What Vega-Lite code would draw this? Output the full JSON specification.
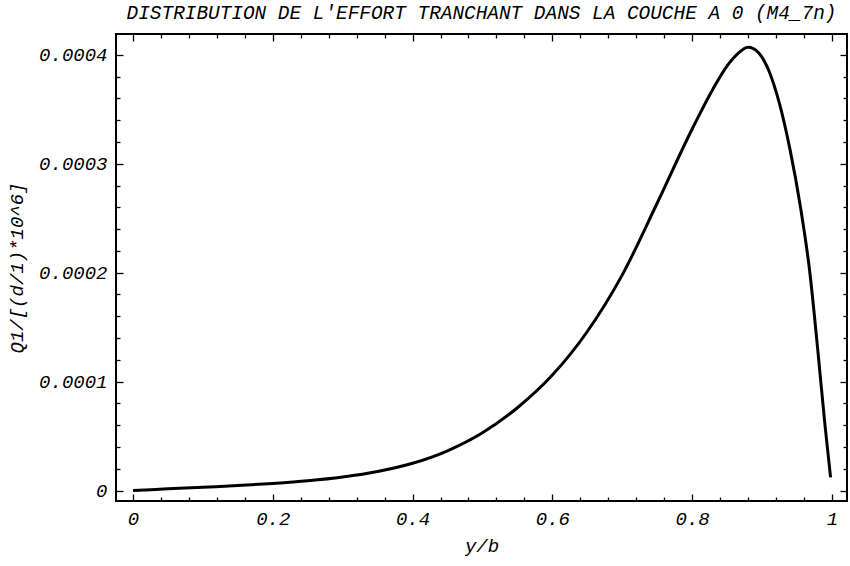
{
  "$schema": "https://vega.github.io/schema/vega-lite/v6.json",
  "width": 731,
  "height": 467,
  "autosize": {"type": "none"},
  "padding": {"left": 116, "top": 34, "right": 3, "bottom": 65},
  "background": "white",
  "config": {
    "view": {"stroke": "black", "strokeWidth": 2},
    "font": "Liberation Mono",
    "axis": {
      "grid": false,
      "domain": false,
      "labelFont": "Liberation Mono",
      "labelFontStyle": "italic",
      "labelFontSize": 19,
      "labelColor": "black",
      "titleFont": "Liberation Mono",
      "titleFontStyle": "italic",
      "titleFontWeight": "normal",
      "titleFontSize": 19,
      "titleColor": "black",
      "tickColor": "black",
      "tickWidth": 1.3,
      "labelFlush": false,
      "labelOverlap": false,
      "labelBound": false
    }
  },
  "title": {
    "text": "DISTRIBUTION DE L'EFFORT TRANCHANT DANS LA COUCHE A 0 (M4_7n)",
    "font": "Liberation Mono",
    "fontStyle": "italic",
    "fontWeight": "normal",
    "fontSize": 19.4,
    "color": "black",
    "anchor": "middle",
    "offset": 10
  },
  "data": {
    "values": [
      {"yb": 0, "q": 0},
      {"yb": 0.05, "q": 0.0000015},
      {"yb": 0.1, "q": 0.000003},
      {"yb": 0.15, "q": 0.0000045},
      {"yb": 0.2, "q": 0.0000065},
      {"yb": 0.25, "q": 0.000009},
      {"yb": 0.3, "q": 0.0000125},
      {"yb": 0.35, "q": 0.0000175},
      {"yb": 0.4, "q": 0.000025},
      {"yb": 0.45, "q": 0.0000365},
      {"yb": 0.5, "q": 0.000053},
      {"yb": 0.55, "q": 0.000076},
      {"yb": 0.6, "q": 0.000106},
      {"yb": 0.65, "q": 0.000146},
      {"yb": 0.7, "q": 0.000198},
      {"yb": 0.75, "q": 0.000264},
      {"yb": 0.8, "q": 0.000332},
      {"yb": 0.83, "q": 0.000369},
      {"yb": 0.85, "q": 0.00039},
      {"yb": 0.865, "q": 0.000401},
      {"yb": 0.88, "q": 0.000407},
      {"yb": 0.895, "q": 0.000402},
      {"yb": 0.91, "q": 0.000385},
      {"yb": 0.925, "q": 0.000355},
      {"yb": 0.94, "q": 0.000313},
      {"yb": 0.955, "q": 0.00026},
      {"yb": 0.968, "q": 0.000202},
      {"yb": 0.98, "q": 0.000127},
      {"yb": 0.99, "q": 0.00006},
      {"yb": 0.998, "q": 0.000012}
    ]
  },
  "resolve": {"axis": {"x": "independent", "y": "independent"}},
  "layer": [
    {
      "mark": {"type": "line", "color": "black", "strokeWidth": 3, "interpolate": "monotone"},
      "encoding": {
        "x": {"field": "yb", "type": "quantitative", "scale": {"domain": [-0.0243, 1.0215], "nice": false, "zero": false},
          "axis": {"orient": "bottom", "title": "y/b", "ticks": false, "values": [0, 0.2, 0.4, 0.6, 0.8, 1], "labelExpr": "format(datum.value, '~g')", "labelPadding": 8, "titlePadding": 8}},
        "y": {"field": "q", "type": "quantitative", "scale": {"domain": [-0.00000964, 0.0004192], "nice": false, "zero": false},
          "axis": {"orient": "left", "title": "Q1/[(d/1)*10^6]", "ticks": false, "values": [0, 0.0001, 0.0002, 0.0003, 0.0004], "labelExpr": "format(datum.value, '~g')", "labelPadding": 9, "titlePadding": 12}}
      }
    },
    {
      "mark": {"type": "line", "opacity": 0},
      "encoding": {
        "x": {"field": "yb", "type": "quantitative",
          "axis": {"orient": "bottom", "title": null, "labels": false, "tickSize": -7, "values": [0, 0.2, 0.4, 0.6, 0.8, 1]}},
        "y": {"field": "q", "type": "quantitative",
          "axis": {"orient": "left", "title": null, "labels": false, "tickSize": -7, "values": [0, 0.0001, 0.0002, 0.0003, 0.0004]}}
      }
    },
    {
      "mark": {"type": "line", "opacity": 0},
      "encoding": {
        "x": {"field": "yb", "type": "quantitative",
          "axis": {"orient": "bottom", "title": null, "labels": false, "tickSize": -4, "values": [0.04, 0.08, 0.12, 0.16, 0.24, 0.28, 0.32, 0.36, 0.44, 0.48, 0.52, 0.56, 0.64, 0.68, 0.72, 0.76, 0.84, 0.88, 0.92, 0.96]}},
        "y": {"field": "q", "type": "quantitative",
          "axis": {"orient": "left", "title": null, "labels": false, "tickSize": -4, "values": [0.00002, 0.00004, 0.00006, 0.00008, 0.00012, 0.00014, 0.00016, 0.00018, 0.00022, 0.00024, 0.00026, 0.00028, 0.00032, 0.00034, 0.00036, 0.00038]}}
      }
    },
    {
      "mark": {"type": "line", "opacity": 0},
      "encoding": {
        "x": {"field": "yb", "type": "quantitative",
          "axis": {"orient": "top", "title": null, "labels": false, "tickSize": -7, "values": [0, 0.2, 0.4, 0.6, 0.8, 1]}},
        "y": {"field": "q", "type": "quantitative",
          "axis": {"orient": "right", "title": null, "labels": false, "tickSize": -7, "values": [0, 0.0001, 0.0002, 0.0003, 0.0004]}}
      }
    },
    {
      "mark": {"type": "line", "opacity": 0},
      "encoding": {
        "x": {"field": "yb", "type": "quantitative",
          "axis": {"orient": "top", "title": null, "labels": false, "tickSize": -4, "values": [0.04, 0.08, 0.12, 0.16, 0.24, 0.28, 0.32, 0.36, 0.44, 0.48, 0.52, 0.56, 0.64, 0.68, 0.72, 0.76, 0.84, 0.88, 0.92, 0.96]}},
        "y": {"field": "q", "type": "quantitative",
          "axis": {"orient": "right", "title": null, "labels": false, "tickSize": -4, "values": [0.00002, 0.00004, 0.00006, 0.00008, 0.00012, 0.00014, 0.00016, 0.00018, 0.00022, 0.00024, 0.00026, 0.00028, 0.00032, 0.00034, 0.00036, 0.00038]}}
      }
    }
  ]
}
